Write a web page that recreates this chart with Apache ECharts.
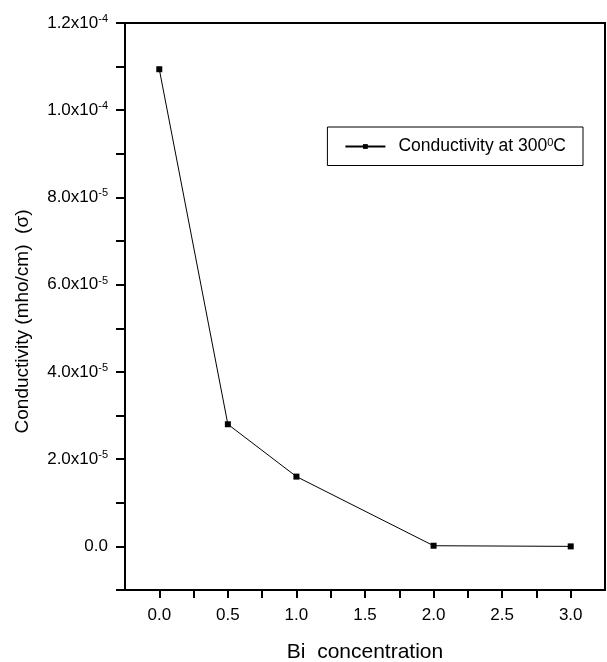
<!DOCTYPE html>
<html>
<head>
<meta charset="utf-8">
<script src="https://cdn.jsdelivr.net/npm/echarts@6/dist/echarts.min.js"></script>
<style>
  html, body { margin: 0; padding: 0; background: #fff; }
  #chart { width: 607px; height: 662px; }
</style>
</head>
<body>
<div id="chart"></div>
<script>
// Bi concentration vs conductivity
const biConcentration = [0.0, 0.5, 1.0, 2.0, 3.0]
const conductivity = [1.094e-4, 2.8e-5, 1.6e-5, 1.5e-7, 0]
const seriesName = 'Conductivity at 300'
// keyed by value in units of 1e-5
const yLabels = { 0: '0.0', 2: '2.0x10|-5', 4: '4.0x10|-5', 6: '6.0x10|-5', 8: '8.0x10|-5', 10: '1.0x10|-4', 12: '1.2x10|-4' }

const font = 'Liberation Sans, Arial, sans-serif'
const chart = echarts.init(document.getElementById('chart'))

const yFormatter = (v) => {
  const n = Math.round(v * 1e5)
  const s = yLabels[n]
  if (!s) return ''
  const parts = s.split('|')
  if (parts.length === 1) return '{b|' + parts[0] + '}'
  return '{b|' + parts[0] + '}{sup|' + parts[1] + '}'
}

const option = {
  animation: false,
  backgroundColor: '#fff',
  textStyle: { fontFamily: font },
  grid: {
    left: 125,
    right: 2,
    top: 23,
    bottom: 72,
    outerBoundsMode: 'none',
    containLabel: false,
    show: true,
    borderColor: '#000',
    borderWidth: 2
  },
  legend: {
    data: [seriesName],
    right: 24,
    top: 127,
    padding: [10, 17, 10, 17],
    borderColor: '#000',
    borderWidth: 1,
    itemWidth: 40,
    itemHeight: 6,
    itemGap: 5,
    formatter: (name) => '{f|' + name + '}{s|0}{t|C}',
    textStyle: {
      rich: {
        f: { fontSize: 17.5, color: '#000', fontFamily: font, padding: [0, 0, 0, 8] },
        t: { fontSize: 17.5, color: '#000', fontFamily: font },
        s: { fontSize: 11, color: '#000', fontFamily: font, verticalAlign: 'top', padding: [0, 0, 8, 0] }
      }
    }
  },
  xAxis: {
    type: 'value',
    min: -0.25,
    max: 3.25,
    interval: 0.25,
    name: 'Bi  concentration',
    nameLocation: 'middle',
    nameGap: 52,
    nameTextStyle: { fontSize: 21, color: '#000', fontFamily: font },
    axisLine: { onZero: false, lineStyle: { color: '#000', width: 2 } },
    axisTick: { inside: false, length: 8, lineStyle: { color: '#000', width: 2 } },
    axisLabel: {
      color: '#000',
      fontSize: 17,
      margin: 17,
      showMinLabel: false,
      showMaxLabel: false,
      formatter: (v) => {
        const n = Math.round(v * 4)
        if (n % 2 !== 0 || v < 0 || v > 3) return ''
        return v.toFixed(1)
      }
    },
    splitLine: { show: false }
  },
  yAxis: {
    type: 'value',
    min: -1e-5,
    max: 1.2e-4,
    interval: 1e-5,
    name: 'Conductivity (mho/cm)  (\u03c3)',
    nameLocation: 'middle',
    nameGap: 93,
    nameTextStyle: { fontSize: 19, color: '#000', fontFamily: font, padding: [0, 0, 0, -30] },
    axisLine: { onZero: false, lineStyle: { color: '#000', width: 2 } },
    axisTick: { length: 9, lineStyle: { color: '#000', width: 2 } },
    axisLabel: {
      margin: 17,
      formatter: yFormatter,
      rich: {
        b: { fontSize: 17, color: '#000', fontFamily: font },
        sup: { fontSize: 11, color: '#000', fontFamily: font, verticalAlign: 'top', padding: [0, 0, 8, 0] }
      }
    },
    splitLine: { show: false }
  },
  series: [
    {
      name: seriesName,
      type: 'line',
      data: biConcentration.map((x, i) => [x, conductivity[i]]),
      symbol: 'rect',
      symbolSize: 6,
      itemStyle: { color: '#000' },
      lineStyle: { color: '#000', width: 1 }
    }
  ]
}

chart.setOption(option)
</script>
</body>
</html>
